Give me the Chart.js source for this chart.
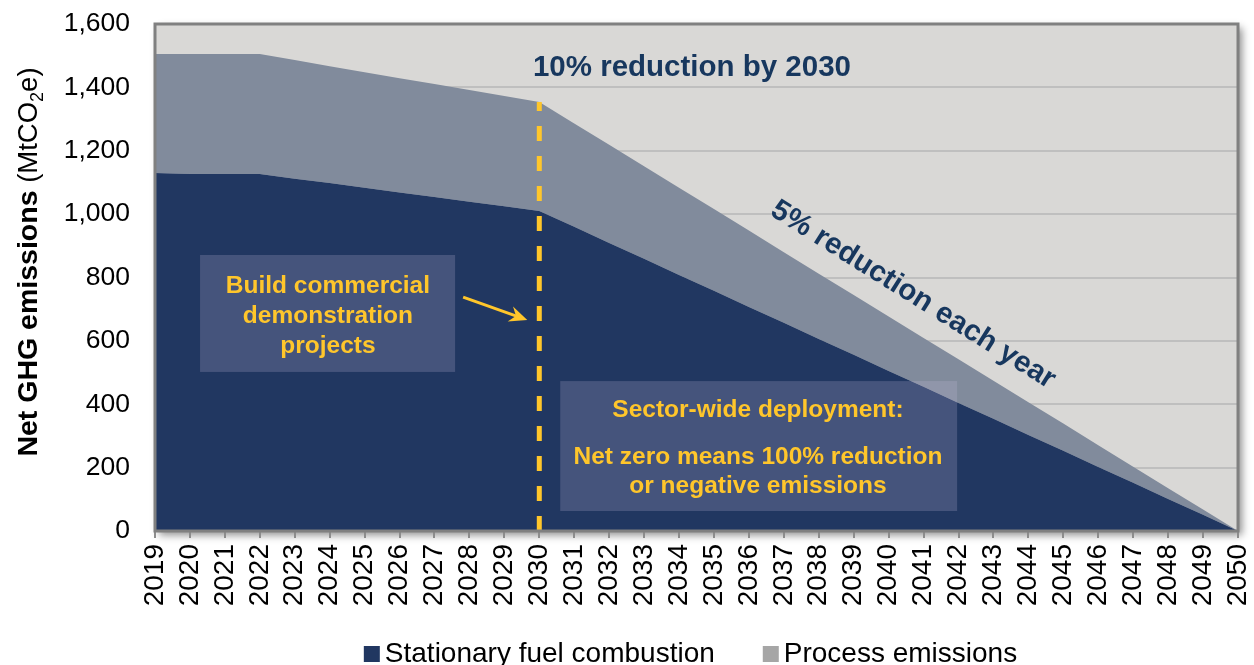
<!DOCTYPE html>
<html>
<head>
<meta charset="utf-8">
<script src="https://cdn.jsdelivr.net/npm/chart.js@4.4.1/dist/chart.umd.min.js"></script>
<style>
  html, body { margin: 0; padding: 0; background: #ffffff; overflow: hidden; }
  #wrap { width: 1254px; height: 665px; }
</style>
</head>
<body>
<div id="wrap"><canvas id="c" width="1254" height="665"></canvas></div>
<script>
// Net GHG emissions pathway, MtCO2e per year
const years = ['2019','2020','2021','2022','2023','2024','2025','2026','2027','2028','2029','2030',
               '2031','2032','2033','2034','2035','2036','2037','2038','2039','2040',
               '2041','2042','2043','2044','2045','2046','2047','2048','2049','2050'];
const stationary = [1130,1127,1127,1127,1112,1098,1083,1068,1054,1039,1025,1010,
                    960,909,859,808,758,707,657,606,556,505,
                    455,404,354,303,253,202,152,101,51,0];
const processEm = [375,378,378,378,374,369,365,361,357,353,348,344,
                   326,310,292,275,258,241,223,206,189,172,
                   154,138,120,103,86,69,51,34,17,0];
const seriesNames = ['Stationary fuel combustion', 'Process emissions'];
const yMin = 0, yMax = 1600, yStep = 200;
const milestoneYear = '2030';

const FONT = '"Liberation Sans", Arial, Helvetica, sans-serif';
const NAVY = '#213761';
const SLATE = '#818B9C';
const GOLD = '#FFC62B';
const INK = '#17375E';
const legendSwatches = [NAVY, '#A6A6A6'];

// scale helpers: fractional category index and value -> pixels
function px(chart, i) { return chart.scales.x.getPixelForValue(i); }
function py(chart, v) { return chart.scales.y.getPixelForValue(v); }

function centeredLines(ctx, lines, x, ys) {
  ctx.textAlign = 'center';
  ctx.textBaseline = 'middle';
  lines.forEach((t, k) => ctx.fillText(t, x, ys[k]));
}

const decorPlugin = {
  id: 'decor',
  beforeDraw(chart) {
    const { ctx, chartArea: a } = chart;
    ctx.save();
    ctx.shadowColor = 'rgba(0,0,0,0.45)';
    ctx.shadowBlur = 8;
    ctx.shadowOffsetX = 4;
    ctx.shadowOffsetY = 4;
    ctx.fillStyle = '#D9D8D6';
    ctx.fillRect(a.left, a.top, a.right - a.left, a.bottom - a.top);
    ctx.restore();
  },
  afterDatasetsDraw(chart) {
    const { ctx, chartArea: a } = chart;
    ctx.save();

    // milestone line at 2030, from the stacked total down to the axis
    const mi = years.indexOf(milestoneYear);
    const mx = px(chart, mi);
    const mTop = py(chart, stationary[mi] + processEm[mi]);
    ctx.strokeStyle = GOLD;
    ctx.lineWidth = 5;
    ctx.setLineDash([15, 15]);
    ctx.beginPath();
    ctx.moveTo(mx, a.bottom);
    ctx.lineTo(mx, mTop);
    ctx.stroke();
    ctx.setLineDash([]);

    // headline labels
    ctx.fillStyle = INK;
    ctx.font = 'bold 29.5px ' + FONT;
    ctx.textAlign = 'center';
    ctx.textBaseline = 'middle';
    ctx.fillText('10% reduction by 2030', px(chart, 15.37), py(chart, 1461));

    ctx.save();
    ctx.translate(px(chart, 21.7), py(chart, 745));
    ctx.rotate(32 * Math.PI / 180);
    ctx.fillText('5% reduction each year', 0, 0);
    ctx.restore();

    // callout boxes
    const boxFill = 'rgba(200,190,225,0.22)';
    ctx.fillStyle = boxFill;
    let l = px(chart, 1.29), r = px(chart, 8.59), t = py(chart, 871), b = py(chart, 502);
    ctx.fillRect(l, t, r - l, b - t);
    l = px(chart, 11.6); r = px(chart, 22.96); t = py(chart, 473); b = py(chart, 63);
    ctx.fillRect(l, t, r - l, b - t);

    ctx.fillStyle = GOLD;
    ctx.font = 'bold 24.5px ' + FONT;
    centeredLines(ctx, ['Build commercial', 'demonstration', 'projects'],
      px(chart, 4.95), [py(chart, 773), py(chart, 679), py(chart, 584)]);
    centeredLines(ctx, ['Sector-wide deployment:', 'Net zero means 100% reduction', 'or negative emissions'],
      px(chart, 17.26), [py(chart, 382), py(chart, 234), py(chart, 142)]);

    // arrow towards the milestone line
    const x0 = px(chart, 8.82), y0 = py(chart, 738);
    const x1 = mx - 12, y1 = py(chart, 666);
    const ang = Math.atan2(y1 - y0, x1 - x0);
    ctx.strokeStyle = GOLD;
    ctx.lineWidth = 3;
    ctx.beginPath();
    ctx.moveTo(x0, y0);
    ctx.lineTo(x1 - 10 * Math.cos(ang), y1 - 10 * Math.sin(ang));
    ctx.stroke();
    ctx.beginPath();
    ctx.moveTo(x1, y1);
    ctx.lineTo(x1 - 18 * Math.cos(ang) + 8 * Math.sin(ang), y1 - 18 * Math.sin(ang) - 8 * Math.cos(ang));
    ctx.lineTo(x1 - 12 * Math.cos(ang), y1 - 12 * Math.sin(ang));
    ctx.lineTo(x1 - 18 * Math.cos(ang) - 8 * Math.sin(ang), y1 - 18 * Math.sin(ang) + 8 * Math.cos(ang));
    ctx.closePath();
    ctx.fillStyle = GOLD;
    ctx.fill();

    // plot frame
    ctx.strokeStyle = '#808080';
    ctx.lineWidth = 3;
    ctx.strokeRect(a.left, a.top, a.right - a.left, a.bottom - a.top);
    ctx.restore();
  },
  afterDraw(chart) {
    const { ctx, chartArea: a } = chart;
    ctx.save();

    // y-axis title with subscript
    const bold = 'bold 28.5px ' + FONT, reg = '27.5px ' + FONT, sub = '18px ' + FONT;
    const parts = [
      { t: 'Net GHG emissions', f: bold, dy: 0 },
      { t: ' (MtCO', f: reg, dy: 0 },
      { t: '2', f: sub, dy: 6 },
      { t: 'e)', f: reg, dy: 0 }
    ];
    let total = 0;
    parts.forEach(p => { ctx.font = p.f; p.w = ctx.measureText(p.t).width; total += p.w; });
    ctx.translate(37, 262);
    ctx.rotate(-Math.PI / 2);
    ctx.fillStyle = '#000000';
    ctx.textAlign = 'left';
    ctx.textBaseline = 'alphabetic';
    let cx = -total / 2;
    parts.forEach(p => { ctx.font = p.f; ctx.fillText(p.t, cx, p.dy); cx += p.w; });
    ctx.setTransform(1, 0, 0, 1, 0, 0);

    // legend
    ctx.font = '28px ' + FONT;
    ctx.textBaseline = 'middle';
    ctx.textAlign = 'left';
    const box = 16, gapText = 5, gapItem = 48, yMid = 654;
    const widths = chart.data.datasets.map(d => box + gapText + ctx.measureText(d.label).width);
    const full = widths.reduce((s, w) => s + w, 0) + gapItem * (widths.length - 1);
    let lx = (a.left + a.right) / 2 - full / 2 - 6;
    chart.data.datasets.forEach((d, k) => {
      ctx.fillStyle = legendSwatches[k];
      ctx.fillRect(lx, yMid - box / 2, box, box);
      ctx.fillStyle = '#000000';
      ctx.fillText(d.label, lx + box + gapText, yMid);
      lx += widths[k] + gapItem;
    });
    ctx.restore();
  }
};

new Chart(document.getElementById('c'), {
  type: 'line',
  data: {
    labels: years,
    datasets: [
      { label: seriesNames[0], data: stationary, backgroundColor: NAVY, borderWidth: 0,
        pointRadius: 0, fill: 'origin', tension: 0 },
      { label: seriesNames[1], data: processEm, backgroundColor: SLATE, borderWidth: 0,
        pointRadius: 0, fill: '-1', tension: 0 }
    ]
  },
  options: {
    responsive: false,
    animation: false,
    devicePixelRatio: 1,
    layout: { padding: { left: 0, right: 16, top: 24, bottom: 0 } },
    plugins: { legend: { display: false }, tooltip: { enabled: false } },
    scales: {
      x: {
        offset: false,
        grid: { drawOnChartArea: false, drawTicks: true, tickLength: 7, color: '#8C8C8C', lineWidth: 2 },
        border: { display: false },
        ticks: { autoSkip: false, maxRotation: 90, minRotation: 90, padding: 6,
                 color: '#000000', font: { family: FONT, size: 28 } },
        afterFit(s) { s.height = 134; s.paddingLeft = 0; s.paddingRight = 0; }
      },
      y: {
        stacked: true,
        min: yMin, max: yMax,
        grid: { drawTicks: false, color: '#BFBFBF', lineWidth: 2 },
        border: { display: false },
        ticks: { stepSize: yStep, padding: 25, color: '#000000',
                 font: { family: FONT, size: 26.5 },
                 callback: v => v.toLocaleString('en-US') },
        afterFit(s) { s.width = 155; s.paddingTop = 0; s.paddingBottom = 0; }
      }
    }
  },
  plugins: [decorPlugin]
});
</script>
</body>
</html>
